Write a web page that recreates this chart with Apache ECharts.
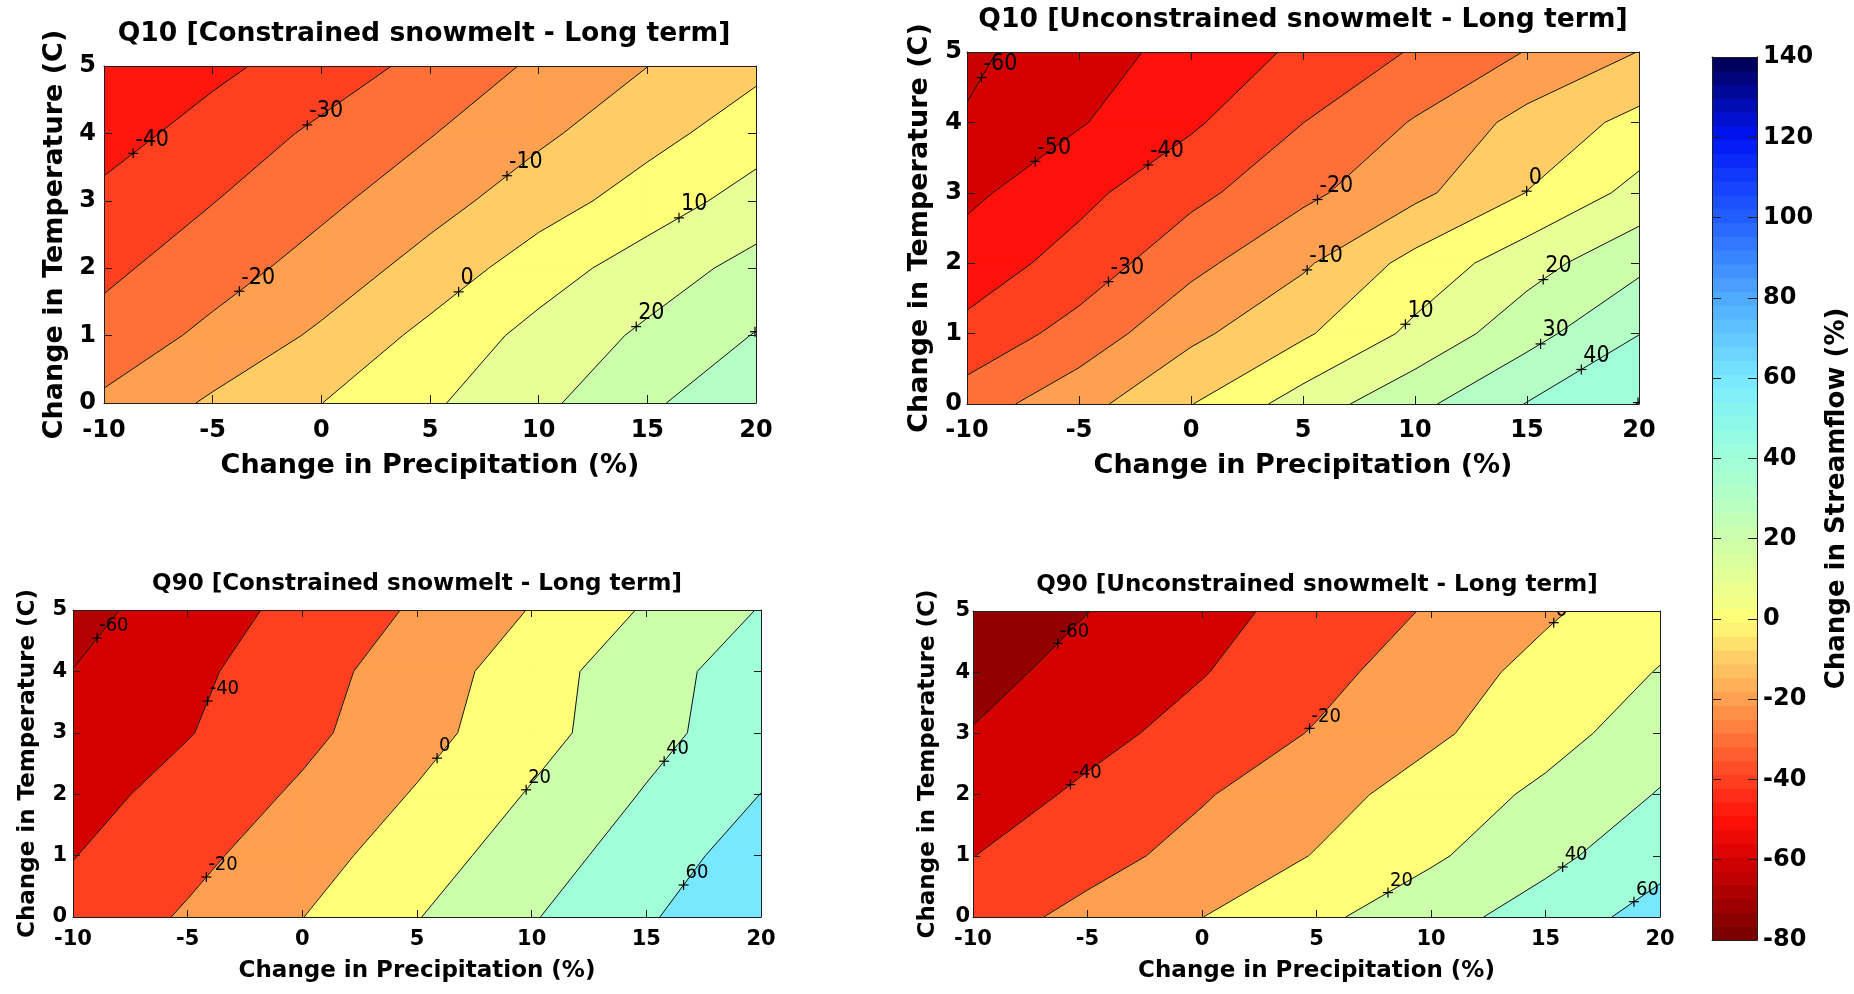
<!DOCTYPE html>
<html>
<head>
<meta charset="utf-8">
<title>Change in Streamflow</title>
<script src="https://cdn.jsdelivr.net/npm/echarts@6.0.0/dist/echarts.min.js"></script>
<style>
  html, body { margin: 0; padding: 0; background: #ffffff; }
  #chart { width: 1854px; height: 994px; }
</style>
</head>
<body>
<div id="chart"></div>
<script>
// ---------------------------------------------------------------------------
// Scenario grid
// ---------------------------------------------------------------------------
const precip = [-10, -5, 0, 5, 10, 15, 20];   // change in precipitation (%)
const temp = [0, 1, 2, 3, 4, 5];              // change in temperature (C)

// Change in streamflow (%): one row per temperature step (0..5 C),
// one column per precipitation step (-10..20 %).
const q10Constrained = [
  [-18.2,  -8.5,  -0.1,   8.6,  17.7,  28.3,  38.0],
  [-26.4, -17.5,  -8.3,   2.8,  13.2,  21.8,  30.5],
  [-32.2, -24.5, -15.9,  -6.1,   5.2,  14.9,  23.2],
  [-37.6, -30.3, -22.4, -13.8,  -4.6,   4.6,  14.2],
  [-44.1, -36.0, -28.1, -20.5, -11.9,  -3.4,   5.3],
  [-48.5, -42.4, -35.1, -27.2, -18.3, -10.1,  -2.3]
];
const q10Unconstrained = [
  [-24.9, -13.6,  -0.3,  14.6,  27.4,  40.4,  50.3],
  [-37.4, -26.0, -12.3,  -1.5,  12.4,  26.3,  39.8],
  [-45.2, -36.2, -22.8, -11.5,   3.3,  15.9,  27.5],
  [-52.2, -42.6, -32.8, -22.3, -12.5,   0.2,  13.2],
  [-59.2, -50.8, -41.5, -30.1, -19.2,  -6.6,   2.9],
  [-62.0, -54.4, -46.6, -38.1, -29.1, -19.6,  -9.8]
];
const q90Constrained = [
  [-33.7, -17.7,  -0.3,  19.2,  38.5,  58.0,  75.0],
  [-40.6, -25.5,  -8.5,  10.5,  30.2,  49.8,  69.6],
  [-47.4, -32.8, -17.0,   1.6,  21.6,  41.5,  60.2],
  [-53.5, -41.0, -24.8,  -7.0,  12.7,  33.3,  52.0],
  [-59.7, -44.6, -28.1, -10.0,   9.8,  34.0,  47.5],
  [-66.5, -50.4, -34.1, -17.6,   0.9,  22.0,  41.0]
];
const q90Unconstrained = [
  [-28.9, -14.5,  -0.2,  15.9,  32.0,  49.4,  67.7],
  [-40.3, -27.0, -13.4,   1.0,  17.1,  34.4,  53.5],
  [-50.7, -36.2, -21.7,  -7.1,   8.2,  24.3,  41.2],
  [-59.1, -46.2, -32.7, -18.5,  -3.3,  12.2,  31.0],
  [-66.1, -53.6, -41.0, -26.1,  -9.8,   6.2,  21.0],
  [-73.4, -60.3, -46.6, -32.7, -18.2,  -2.8,  12.2]
];

// Contour levels
const levelsQ10 = [-60, -50, -40, -30, -20, -10, 0, 10, 20, 30, 40, 50, 60];
const levelsQ90 = [-60, -40, -20, 0, 20, 40, 60];

// Inline contour labels: [level, precipitation, temperature]
const labelsQ10C = [[-40, -8.6, 3.68], [-30, -0.7, 4.15], [-20, -3.66, 1.61], [-10, 8.57, 3.36],
                    [0, 6.29, 1.66], [10, 16.47, 2.74], [20, 14.4, 1.17], [30, 19.9, 1.08]];
const labelsQ10U = [[-60, -9.31, 4.63], [-50, -6.96, 3.45], [-40, -1.86, 3.37], [-30, -3.43, 1.64],
                    [-20, 5.69, 2.88], [-10, 5.2, 1.9], [0, 15.0, 3.02], [10, 9.67, 1.1],
                    [20, 15.63, 1.81], [30, 15.63, 0.84], [40, 17.35, 0.53], [50, 19.9, 0.05]];
const labelsQ90C = [[-60, -8.87, 4.52], [-40, -4.01, 3.5], [-20, -4.12, 0.63], [0, 5.9, 2.58],
                    [20, 9.7, 2.09], [40, 15.8, 2.53], [60, 16.7, 0.5]];
const labelsQ90U = [[-60, -6.27, 4.46], [-40, -5.72, 2.15], [-20, 4.73, 3.07], [0, 15.5, 4.75],
                    [20, 8.12, 0.4], [40, 15.8, 0.79], [60, 18.9, 0.23]];

const titles = [
  'Q10 [Constrained snowmelt - Long term]',
  'Q10 [Unconstrained snowmelt - Long term]',
  'Q90 [Constrained snowmelt - Long term]',
  'Q90 [Unconstrained snowmelt - Long term]'
];

// Colour scale shared by all panels and the colour bar
const cbMin = -80, cbMax = 140, cbInterval = 20, cbSteps = 64;
const cmapValues = [-80, -60, -50, -40, -30, -20, -10, 0, 10, 20, 30, 40, 50, 60, 80, 100, 120, 140];
const cmapColors = ['#730000', '#d40000', '#ff100a', '#ff4020', '#ff7038', '#ffa050', '#ffcc66',
                    '#ffff78', '#e6ff96', '#ccffaa', '#b4ffc6', '#a0ffd8', '#8cf8ec', '#78e8ff',
                    '#50aaff', '#235fff', '#0014f5', '#000050'];

// ---------------------------------------------------------------------------
// Helpers
// ---------------------------------------------------------------------------
function hexRgb(h) { return [1, 3, 5].map(k => parseInt(h.slice(k, k + 2), 16)); }
function cmap(v) {
  if (v <= cmapValues[0]) return cmapColors[0];
  for (let i = 1; i < cmapValues.length; i++) {
    if (v <= cmapValues[i]) {
      const s = (v - cmapValues[i - 1]) / (cmapValues[i] - cmapValues[i - 1]);
      const a = hexRgb(cmapColors[i - 1]), b = hexRgb(cmapColors[i]);
      return 'rgb(' + a.map((x, k) => Math.round(x + (b[k] - x) * s)).join(',') + ')';
    }
  }
  return cmapColors[cmapColors.length - 1];
}

function lerpNode(A, B, L) {
  const s = (L - A.v) / (B.v - A.v);
  return { p: A.p + s * (B.p - A.p), t: A.t + s * (B.t - A.t), v: L };
}

// Part of a cell polygon where the field is >= L (linear along edges)
function clipAbove(poly, L) {
  const out = [];
  for (let k = 0; k < poly.length; k++) {
    const A = poly[k], B = poly[(k + 1) % poly.length];
    const ain = A.v >= L, bin = B.v >= L;
    if (ain) out.push(A);
    if (ain !== bin) out.push(lerpNode(A, B, L));
  }
  return out;
}

// Contour segments of level L inside one cell (marching squares)
function cellSegments(q, L) {
  const e = [];
  for (let k = 0; k < 4; k++) {
    const A = q[k], B = q[(k + 1) % 4];
    e.push(((A.v >= L) !== (B.v >= L)) ? lerpNode(A, B, L) : null);
  }
  const idx = [0, 1, 2, 3].filter(k => e[k]);
  const seg = (a, b) => ({ level: L, a: [e[a].p, e[a].t], b: [e[b].p, e[b].t] });
  if (idx.length === 2) return [seg(idx[0], idx[1])];
  if (idx.length === 4) {
    const c = (q[0].v + q[1].v + q[2].v + q[3].v) / 4 >= L;
    const aAbove = q[0].v >= L;
    if (aAbove === c) return [seg(0, 1), seg(2, 3)];
    return [seg(3, 0), seg(1, 2)];
  }
  return [];
}

function buildPanel(z, levels) {
  const nx = precip.length, ny = temp.length;
  const flat = z.flat();
  const zmin = Math.min(...flat), zmax = Math.max(...flat);
  const used = levels.filter(L => L > zmin && L < zmax);
  const node = (i, j) => ({ p: precip[i], t: temp[j], v: z[j][i] });
  const cellFills = [], cellLines = [], allLines = [], data = [];
  for (let j = 0; j < ny; j++) {
    for (let i = 0; i < nx; i++) {
      data.push([precip[i], temp[j], z[j][i]]);
      const fills = [], lines = [];
      if (i < nx - 1 && j < ny - 1) {
        const quad = [node(i, j), node(i + 1, j), node(i + 1, j + 1), node(i, j + 1)];
        // lowest band first; each level paints the region above it on top
        fills.push({ pts: quad, color: cmap(zmin), layer: 0 });
        used.forEach((L, li) => {
          const poly = clipAbove(quad, L);
          if (poly.length >= 3) fills.push({ pts: poly, color: cmap(L), layer: li + 1 });
        });
        used.forEach(L => cellSegments(quad, L).forEach(s => { lines.push(s); allLines.push(s); }));
      }
      cellFills.push(fills);
      cellLines.push(lines);
    }
  }
  return { data, cellFills, cellLines, allLines };
}

function nearestOnSegments(pt, segs) {
  let best = null, bd = Infinity;
  segs.forEach(([a, b]) => {
    const dx = b[0] - a[0], dy = b[1] - a[1];
    const l2 = dx * dx + dy * dy || 1;
    let s = ((pt[0] - a[0]) * dx + (pt[1] - a[1]) * dy) / l2;
    s = Math.max(0, Math.min(1, s));
    const q = [a[0] + s * dx, a[1] + s * dy];
    const d = (q[0] - pt[0]) ** 2 + (q[1] - pt[1]) ** 2;
    if (d < bd) { bd = d; best = q; }
  });
  return best || pt;
}

// ---------------------------------------------------------------------------
// Layout
// ---------------------------------------------------------------------------
const FONT = '"DejaVu Sans", "Liberation Sans", sans-serif';
const LABEL_FONT = '"DejaVu Sans Condensed", "DejaVu Sans", sans-serif';
const AXIS_COLOR = '#1e1e1e';

const panelSpecs = [
  { z: q10Constrained, levels: levelsQ10, labels: labelsQ10C,
    box: [104, 66, 652, 337], titlePos: [424, 34], titleSize: 26.6, tickSize: 24, nameSize: 27,
    xMargin: 16, yMargin: 8, xNameGap: 49.5, yNameGap: 36, tickLen: 8, labelSize: 23 },
  { z: q10Unconstrained, levels: levelsQ10, labels: labelsQ10U,
    box: [967, 52, 672, 352], titlePos: [1303, 20], titleSize: 26.6, tickSize: 24, nameSize: 27,
    xMargin: 15, yMargin: 5, xNameGap: 48.5, yNameGap: 34, tickLen: 8, labelSize: 23 },
  { z: q90Constrained, levels: levelsQ90, labels: labelsQ90C,
    box: [73, 610, 688, 307], titlePos: [417, 584], titleSize: 23, tickSize: 21, nameSize: 23,
    xMargin: 12.5, yMargin: 6, xNameGap: 43, yNameGap: 33, tickLen: 7, labelSize: 20 },
  { z: q90Unconstrained, levels: levelsQ90, labels: labelsQ90U,
    box: [973, 611, 687, 306], titlePos: [1317, 585], titleSize: 23, tickSize: 21, nameSize: 23,
    xMargin: 12.5, yMargin: 3, xNameGap: 43, yNameGap: 33, tickLen: 7, labelSize: 20 }
];
const cbBox = [1712, 57, 45, 883];

const grids = [], xAxes = [], yAxes = [], series = [], graphics = [];

function frameAxis(gridIndex, extra) {
  return Object.assign({
    gridIndex, type: 'value', z: 10,
    splitLine: { show: false },
    axisLine: { show: true, onZero: false, lineStyle: { color: AXIS_COLOR, width: 1 } },
    axisTick: { show: false },
    axisLabel: { show: false }
  }, extra);
}

panelSpecs.forEach((S, k) => {
  const P = buildPanel(S.z, S.levels);
  grids.push({ left: S.box[0], top: S.box[1], width: S.box[2], height: S.box[3] });
  const tick = { show: true, inside: true, length: S.tickLen, lineStyle: { color: AXIS_COLOR, width: 1 } };
  const tickLabel = (m) => ({ show: true, margin: m, color: '#000', fontFamily: FONT,
                              fontWeight: 'bold', fontSize: S.tickSize });
  const nameStyle = { color: '#000', fontFamily: FONT, fontWeight: 'bold', fontSize: S.nameSize };

  xAxes.push(frameAxis(k, { position: 'bottom', min: precip[0], max: precip[precip.length - 1], interval: 5,
    axisTick: tick, axisLabel: tickLabel(S.xMargin),
    name: 'Change in Precipitation (%)', nameLocation: 'middle', nameGap: S.xNameGap, nameTextStyle: nameStyle }));
  xAxes.push(frameAxis(k, { position: 'top', min: precip[0], max: precip[precip.length - 1], interval: 5, axisTick: tick }));
  yAxes.push(frameAxis(k, { position: 'left', min: temp[0], max: temp[temp.length - 1], interval: 1,
    axisTick: tick, axisLabel: tickLabel(S.yMargin),
    name: 'Change in Temperature (C)', nameLocation: 'middle', nameRotate: 90, nameGap: S.yNameGap,
    nameTextStyle: nameStyle }));
  yAxes.push(frameAxis(k, { position: 'right', min: temp[0], max: temp[temp.length - 1], interval: 1, axisTick: tick }));

  // filled bands (z2 keeps every band above the lower ones across all cells)
  series.push({
    type: 'custom', xAxisIndex: 2 * k, yAxisIndex: 2 * k, clip: true, silent: true, z: 2,
    data: P.data,
    renderItem: (params, api) => ({
      type: 'group',
      children: P.cellFills[params.dataIndex].map(f => ({
        type: 'polygon', z2: f.layer,
        shape: { points: f.pts.map(q => api.coord([q.p, q.t])) },
        style: { fill: f.color, stroke: f.color, lineWidth: 1 }
      }))
    })
  });
  // contour lines
  series.push({
    type: 'custom', xAxisIndex: 2 * k, yAxisIndex: 2 * k, clip: true, silent: true, z: 3,
    data: P.data,
    renderItem: (params, api) => ({
      type: 'group',
      children: P.cellLines[params.dataIndex].map(s => {
        const a = api.coord(s.a), b = api.coord(s.b);
        return { type: 'line', shape: { x1: a[0], y1: a[1], x2: b[0], y2: b[1] },
                 style: { stroke: '#111', lineWidth: 1 } };
      })
    })
  });
  // contour labels
  series.push({
    type: 'custom', xAxisIndex: 2 * k, yAxisIndex: 2 * k, clip: true, silent: true, z: 4,
    data: S.labels,
    encode: { x: 1, y: 2 },
    renderItem: (params, api) => {
      const level = api.value(0);
      const target = api.coord([api.value(1), api.value(2)]);
      const segs = P.allLines.filter(s => s.level === level).map(s => [api.coord(s.a), api.coord(s.b)]);
      const q = nearestOnSegments(target, segs);
      const arm = 5;
      return {
        type: 'group',
        children: [
          { type: 'line', shape: { x1: q[0] - arm, y1: q[1], x2: q[0] + arm, y2: q[1] }, style: { stroke: '#000', lineWidth: 1.2 } },
          { type: 'line', shape: { x1: q[0], y1: q[1] - arm, x2: q[0], y2: q[1] + arm }, style: { stroke: '#000', lineWidth: 1.2 } },
          { type: 'text', x: q[0] + 2, y: q[1] - 2,
            style: { text: String(level), fill: '#000', font: S.labelSize + 'px ' + LABEL_FONT,
                     align: 'left', verticalAlign: 'bottom', textAlign: 'left', textVerticalAlign: 'bottom' } }
        ]
      };
    }
  });

  graphics.push({
    type: 'text', x: S.titlePos[0], y: S.titlePos[1], z: 20,
    style: { text: titles[k], fill: '#000', font: 'bold ' + S.titleSize + 'px ' + FONT,
             align: 'center', verticalAlign: 'middle', textAlign: 'center', textVerticalAlign: 'middle' }
  });
});

// Colour bar
const cbGrid = grids.length;
grids.push({ left: cbBox[0], top: cbBox[1], width: cbBox[2], height: cbBox[3] });
const cbTick = { show: true, inside: true, length: 9, lineStyle: { color: AXIS_COLOR, width: 1 } };
xAxes.push(frameAxis(cbGrid, { position: 'bottom', min: 0, max: 1 }));
xAxes.push(frameAxis(cbGrid, { position: 'top', min: 0, max: 1 }));
yAxes.push(frameAxis(cbGrid, { position: 'left', min: cbMin, max: cbMax, interval: cbInterval, axisTick: cbTick }));
yAxes.push(frameAxis(cbGrid, { position: 'right', min: cbMin, max: cbMax, interval: cbInterval, axisTick: cbTick,
  axisLabel: { show: true, margin: 6, color: '#000', fontFamily: FONT, fontWeight: 'bold', fontSize: 24 },
  name: 'Change in Streamflow (%)', nameLocation: 'middle', nameRotate: 90, nameGap: 67,
  nameTextStyle: { color: '#000', fontFamily: FONT, fontWeight: 'bold', fontSize: 26 } }));

const cbData = [];
for (let s = 0; s < cbSteps; s++) {
  cbData.push([cbMin + s * (cbMax - cbMin) / cbSteps, cbMin + (s + 1) * (cbMax - cbMin) / cbSteps]);
}
series.push({
  type: 'custom', xAxisIndex: 2 * cbGrid, yAxisIndex: 2 * cbGrid, clip: true, silent: true, z: 2,
  data: cbData,
  encode: { y: [0, 1] },
  renderItem: (params, api) => {
    const lo = api.value(0), hi = api.value(1);
    const p0 = api.coord([0, lo]), p1 = api.coord([1, hi]);
    const c = cmap((lo + hi) / 2);
    return { type: 'rect', shape: { x: p0[0], y: p1[1], width: p1[0] - p0[0], height: p0[1] - p1[1] },
             style: { fill: c, stroke: c, lineWidth: 1 } };
  }
});

const chart = echarts.init(document.getElementById('chart'), null, { renderer: 'canvas' });
chart.setOption({
  animation: false,
  backgroundColor: '#ffffff',
  grid: grids,
  xAxis: xAxes,
  yAxis: yAxes,
  series: series,
  graphic: { elements: graphics }
});
</script>
</body>
</html>
